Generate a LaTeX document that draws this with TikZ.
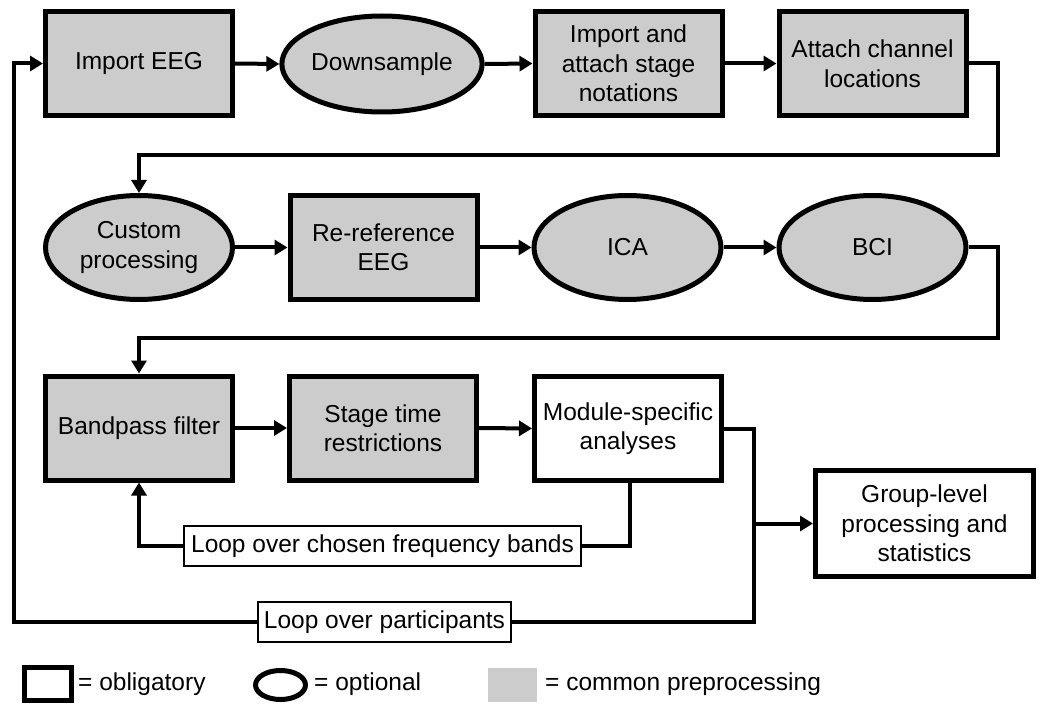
\documentclass[tikz,border=0pt]{standalone}
\usepackage{fontspec}
\setmainfont{Liberation Sans}
\usetikzlibrary{arrows.meta,shapes.geometric}
\definecolor{boxgray}{RGB}{204,204,204}
\begin{document}
\begin{tikzpicture}[x=1pt,y=-1pt,
  every node/.style={font=\fontsize{24.5pt}{29.5pt}\selectfont, align=center, inner sep=0pt},
  rectbox/.style={draw, line width=5pt, fill=boxgray, minimum width=187pt, minimum height=104pt},
  ellbox/.style={ellipse, draw, line width=5pt, fill=boxgray, minimum width=187pt, minimum height=104pt},
  whitebox/.style={draw, line width=5pt, fill=white, minimum width=187pt, minimum height=104pt},
  lbl/.style={draw, line width=1.5pt, fill=white, minimum height=40pt},
  conn/.style={line width=4pt},
  arr/.style={conn, -{Triangle[length=13pt,width=15pt]}}
]
\useasboundingbox (0,0) rectangle (1050,714);

% row 1
\node[rectbox] (importeeg) at (139,63.5) {Import EEG};
\node[ellbox, minimum width=185pt, minimum height=96pt] (downsample) at (382,64) {Downsample};
\node[rectbox] (importattach) at (628.5,63.5) {Import and\\attach stage\\notations};
\node[rectbox] (attach) at (872.5,63.5) {Attach channel\\locations};

% row 2
\node[ellbox] (custom) at (139,247.5) {Custom\\processing};
\node[rectbox] (reref) at (383.5,247.5) {Re-reference\\EEG};
\node[ellbox] (ica) at (627.5,247.5) {ICA};
\node[ellbox] (bci) at (872.5,247.5) {BCI};

% row 3
\node[rectbox] (bandpass) at (139,428) {Bandpass filter};
\node[rectbox] (stage) at (383,428) {Stage time\\restrictions};
\node[whitebox] (module) at (628,428.5) {Module-specific\\analyses};
\node[whitebox, minimum width=218pt, minimum height=106pt] (group) at (924.5,523.5) {Group-level\\processing and\\statistics};

\node[lbl, minimum width=397pt] (freq) at (382.5,546) {Loop over chosen frequency bands};
\node[lbl, minimum width=253pt] (part) at (384.5,622) {Loop over participants};

\coordinate (r1) at (998,155);
\coordinate (r2) at (998,338);
\coordinate (down) at (754,622);
\coordinate (br) at (754,523.5);
\coordinate (lp) at (14,63.5);

% connectors row 1
\draw[arr] (importeeg.east) -- (downsample.west);
\draw[arr] (downsample.east) -- (importattach.west);
\draw[arr] (importattach.east) -- (attach.west);
\draw[arr] (attach.east) -| (r1) -| (custom.north);
% row 2
\draw[arr] (custom.east) -- (reref.west);
\draw[arr] (reref.east) -- (ica.west);
\draw[arr] (ica.east) -- (bci.west);
\draw[arr] (bci.east) -| (r2) -| (bandpass.north);
% row 3
\draw[arr] (bandpass.east) -- (stage.west);
\draw[arr] (stage.east) -- (module.west);
\draw[conn] ([xshift=2pt]module.south) |- (freq.east);
\draw[arr] (freq.west) -| (bandpass.south);
\draw[conn] (module.east) -| (down) -- (part.east);
\draw[arr] (part.west) -| (lp) -- (importeeg.west);
\draw[arr] (br) -- (group.west);

% legend
\node[draw, line width=5pt, fill=white, minimum width=47pt, minimum height=33pt] (lsq) at (48,684) {};
\node[anchor=base west] (lt1) at (78,690) {= obligatory};
\node[ellipse, draw, line width=5pt, fill=white, minimum width=50pt, minimum height=29pt] (lel) at (280.5,685) {};
\node[anchor=base west] (lt2) at (314,690) {= optional};
\node[fill=boxgray, minimum width=49pt, minimum height=34pt] (lgr) at (512.5,685) {};
\node[anchor=base west] (lt3) at (545,690) {= common preprocessing};
\end{tikzpicture}
\end{document}
